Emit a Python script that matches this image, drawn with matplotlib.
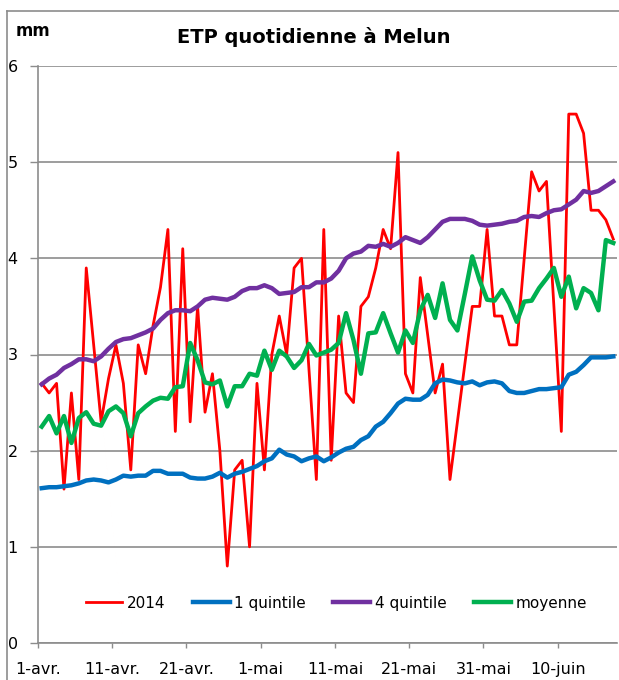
import numpy as np
import matplotlib
matplotlib.use('Agg')
import matplotlib.pyplot as plt
from matplotlib.lines import Line2D

# jours depuis le 1er avril
days = np.arange(78)
tick_days = [0, 10, 20, 30, 40, 50, 60, 70]
tick_labels = ['1-avr.', '11-avr.', '21-avr.', '1-mai', '11-mai', '21-mai', '31-mai', '10-juin']

etp_2014 = [2.7, 2.6, 2.7, 1.6, 2.6, 1.7, 3.9, 3.1, 2.3, 2.75,
            3.1, 2.7, 1.8, 3.1, 2.8, 3.3, 3.7, 4.3, 2.2, 4.1,
            2.3, 3.5, 2.4, 2.8, 2.0, 0.8, 1.8, 1.9, 1.0, 2.7,
            1.8, 3.0, 3.4, 3.0, 3.9, 4.0, 2.85, 1.7, 4.3, 1.9,
            3.4, 2.6, 2.5, 3.5, 3.6, 3.9, 4.3, 4.1, 5.1, 2.8,
            2.6, 3.8, 3.2, 2.6, 2.9, 1.7, 2.3, 2.9, 3.5, 3.5,
            4.3, 3.4, 3.4, 3.1, 3.1, 4.0, 4.9, 4.7, 4.8, 3.5,
            2.2, 5.5, 5.5, 5.3, 4.5, 4.5, 4.4, 4.2]

quintile_1 = [1.61, 1.62, 1.62, 1.63, 1.64, 1.66, 1.69, 1.70, 1.69, 1.67,
              1.70, 1.74, 1.73, 1.74, 1.74, 1.79, 1.79, 1.76, 1.76, 1.76,
              1.72, 1.71, 1.71, 1.73, 1.77, 1.72, 1.76, 1.78, 1.81, 1.84,
              1.89, 1.92, 2.01, 1.96, 1.94, 1.89, 1.92, 1.94, 1.89, 1.93,
              1.98, 2.02, 2.04, 2.11, 2.15, 2.25, 2.30, 2.39, 2.49, 2.54,
              2.53, 2.53, 2.58, 2.70, 2.74, 2.73, 2.71, 2.70, 2.72, 2.68,
              2.71, 2.72, 2.70, 2.62, 2.60, 2.60, 2.62, 2.64, 2.64, 2.65,
              2.66, 2.79, 2.82, 2.89, 2.97, 2.97, 2.97, 2.98]

quintile_4 = [2.69, 2.75, 2.79, 2.86, 2.90, 2.95, 2.95, 2.93, 2.98, 3.06,
              3.13, 3.16, 3.17, 3.20, 3.23, 3.27, 3.36, 3.43, 3.46, 3.46,
              3.45, 3.50, 3.57, 3.59, 3.58, 3.57, 3.60, 3.66, 3.69, 3.69,
              3.72, 3.69, 3.63, 3.64, 3.65, 3.70, 3.70, 3.75, 3.75, 3.79,
              3.87, 4.00, 4.05, 4.07, 4.13, 4.12, 4.15, 4.12, 4.16, 4.22,
              4.19, 4.16, 4.22, 4.30, 4.38, 4.41, 4.41, 4.41, 4.39, 4.35,
              4.34, 4.35, 4.36, 4.38, 4.39, 4.43, 4.44, 4.43, 4.47, 4.50,
              4.51, 4.56, 4.61, 4.70, 4.68, 4.70, 4.75, 4.80]

moyenne = [2.25, 2.36, 2.18, 2.36, 2.08, 2.34, 2.40, 2.28, 2.26, 2.41,
           2.46, 2.39, 2.15, 2.39, 2.46, 2.52, 2.55, 2.54, 2.66, 2.67,
           3.12, 2.94, 2.71, 2.69, 2.73, 2.46, 2.67, 2.67, 2.80, 2.78,
           3.04, 2.84, 3.04, 2.98, 2.86, 2.94, 3.11, 2.99, 3.02, 3.05,
           3.12, 3.43, 3.15, 2.80, 3.22, 3.23, 3.43, 3.22, 3.02, 3.25,
           3.12, 3.46, 3.62, 3.38, 3.74, 3.36, 3.25, 3.63, 4.02, 3.77,
           3.57, 3.56, 3.67, 3.53, 3.34, 3.55, 3.56, 3.69, 3.79, 3.90,
           3.60, 3.81, 3.48, 3.69, 3.64, 3.46, 4.19, 4.16]

plt.rcParams['font.family'] = ['DejaVu Sans']
grey = '#8c8c8c'

fig = plt.figure(figsize=(6.19, 6.80), dpi=100)
ax = fig.add_axes([38/619, 37/680, 579/619, 577/680])

x = days + 0.5
ax.plot(x, etp_2014, color='#ff0000', lw=2.0, label='2014')
ax.plot(x, quintile_1, color='#0070c0', lw=3.2, label='1 quintile', solid_joinstyle='round')
ax.plot(x, quintile_4, color='#7030a0', lw=3.2, label='4 quintile', solid_joinstyle='round')
ax.plot(x, moyenne, color='#00b050', lw=3.2, label='moyenne', solid_joinstyle='round')

ax.set_xlim(0, 78)
ax.set_ylim(0, 6)
ax.set_xticks(tick_days)
ax.set_xticklabels(tick_labels)
ax.set_yticks(range(7))
ax.tick_params(axis='x', length=3.6, width=1, color=grey, pad=10, labelsize=11.5)
ax.tick_params(axis='y', length=5.5, width=1, color=grey, pad=9, labelsize=11.5)
ax.yaxis.grid(True, color=grey, lw=1.2)
ax.set_axisbelow(True)
for side in ['top', 'right']:
    ax.spines[side].set_visible(False)
for side in ['left', 'bottom']:
    ax.spines[side].set_color(grey)
    ax.spines[side].set_linewidth(1.2)

ax.legend(loc='center', bbox_to_anchor=(0.515, 0.069), ncol=4, frameon=False,
          fontsize=11, handlelength=2.4, handletextpad=0.3, columnspacing=1.8)

fig.text(314/619, 1 - 37/680, 'ETP quotidienne à Melun', ha='center', va='center',
         fontsize=14, fontweight='bold')
fig.text(16/619, 1 - 31/680, 'mm', ha='left', va='center', fontsize=12, fontweight='bold')

# cadre du graphique
fig.add_artist(Line2D([7/619, 7/619], [0, 1 - 11/680], color=grey, lw=1.2))
fig.add_artist(Line2D([7/619, 1], [1 - 11/680, 1 - 11/680], color=grey, lw=1.2))

fig.savefig('out.png', dpi=100)
